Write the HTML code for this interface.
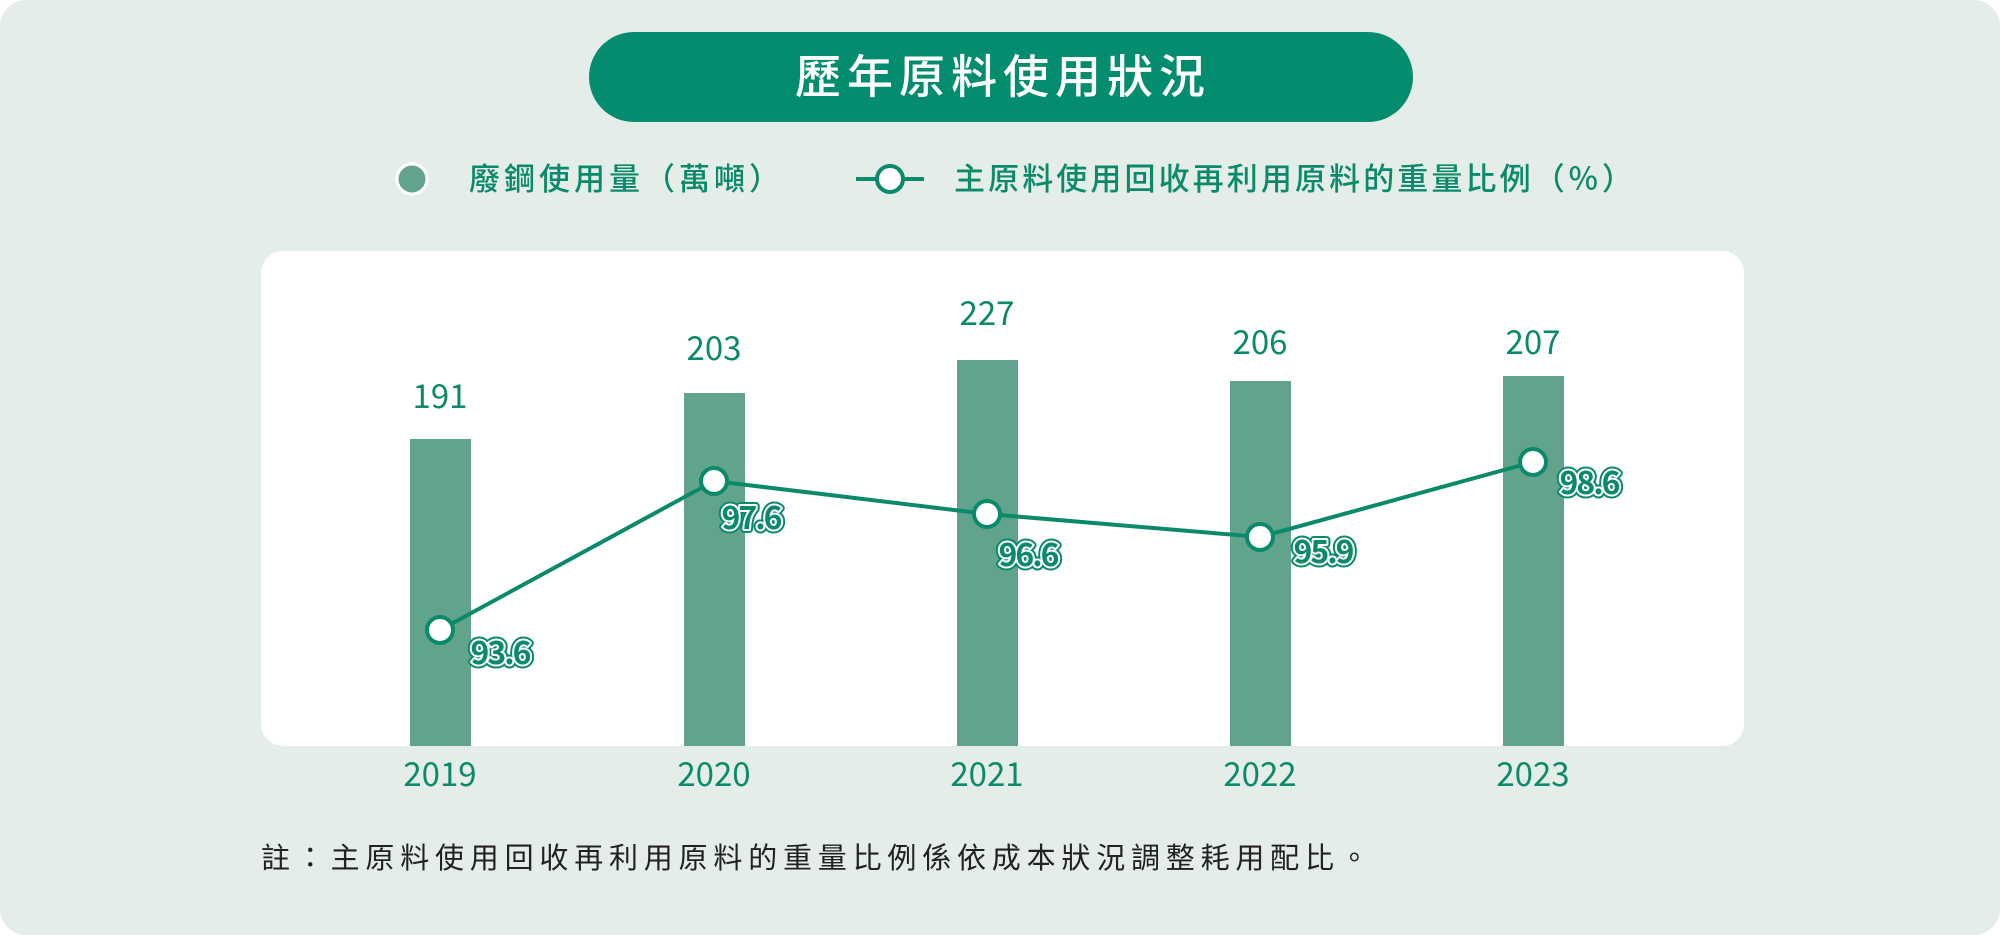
<!DOCTYPE html>
<html><head><meta charset="utf-8"><style>
html,body{margin:0;padding:0;background:#fff;}
body{width:2000px;height:935px;position:relative;overflow:hidden;font-family:"Liberation Sans","Noto Sans CJK TC",sans-serif;}
</style></head><body>
<svg width="2000" height="935" viewBox="0 0 2000 935" xmlns="http://www.w3.org/2000/svg" style="position:absolute;left:0;top:0">
<rect x="0" y="0" width="2000" height="935" rx="26" fill="#e5ede8"/>
<rect x="589" y="32" width="824" height="90" rx="45" fill="#038c6d"/>
<text x="1003" y="93" font-size="46" fill="#fff" text-anchor="middle" font-family="Noto Sans CJK TC, sans-serif" font-weight="500" letter-spacing="6">歷年原料使用狀況</text>
<circle cx="412" cy="179" r="15" fill="#62a48b" stroke="#fff" stroke-width="3"/>
<text x="469" y="190" font-size="31" fill="#0a8a6a" font-family="Noto Sans CJK TC, sans-serif" font-weight="500" letter-spacing="4">廢鋼使用量（萬噸）</text>
<line x1="856" y1="179" x2="924" y2="179" stroke="#0a8a6a" stroke-width="4"/>
<circle cx="890" cy="179" r="13" fill="#fff" stroke="#0a8a6a" stroke-width="4"/>
<text x="954" y="190" font-size="31" fill="#0a8a6a" font-family="Noto Sans CJK TC, sans-serif" font-weight="500" letter-spacing="3.1">主原料使用回收再利用原料的重量比例（％）</text>
<rect x="261" y="251" width="1483" height="495" rx="22" fill="#fff"/>
<g fill="#62a48b">
<rect x="410" y="439" width="61" height="307"/>
<rect x="684" y="393" width="61" height="353"/>
<rect x="957" y="360" width="61" height="386"/>
<rect x="1230" y="381" width="61" height="365"/>
<rect x="1503" y="376" width="61" height="370"/>
</g>
<g font-size="33" fill="#0a8a6a" text-anchor="middle" font-family="Noto Sans CJK TC, sans-serif">
<text x="440" y="408">191</text>
<text x="714" y="360">203</text>
<text x="987" y="325">227</text>
<text x="1260" y="354">206</text>
<text x="1533" y="354">207</text>
<text x="440" y="786">2019</text>
<text x="714" y="786">2020</text>
<text x="987" y="786">2021</text>
<text x="1260" y="786">2022</text>
<text x="1533" y="786">2023</text>
</g>
<polyline points="440,630 714,481 987,514 1260,537 1533,462" fill="none" stroke="#0a8a6a" stroke-width="4"/>
<g fill="#fff" stroke="#0a8a6a" stroke-width="4">
<circle cx="440" cy="630" r="13"/>
<circle cx="714" cy="481" r="13"/>
<circle cx="987" cy="514" r="13"/>
<circle cx="1260" cy="537" r="13"/>
<circle cx="1533" cy="462" r="13"/>
</g>
<g font-size="32" font-weight="bold" fill="#0a8a6a" stroke="#0a8a6a" stroke-width="8" paint-order="stroke" stroke-linejoin="round" text-anchor="middle" letter-spacing="-2" font-family="Noto Sans CJK TC, sans-serif">
<text x="500" y="664">93.6</text>
<text x="751" y="529">97.6</text>
<text x="1028" y="566">96.6</text>
<text x="1323" y="563">95.9</text>
<text x="1589" y="494">98.6</text>
</g>
<g font-size="32" font-weight="bold" fill="#0a8a6a" stroke="#fff" stroke-width="4" paint-order="stroke" stroke-linejoin="round" text-anchor="middle" letter-spacing="-2" font-family="Noto Sans CJK TC, sans-serif">
<text x="500" y="664">93.6</text>
<text x="751" y="529">97.6</text>
<text x="1028" y="566">96.6</text>
<text x="1323" y="563">95.9</text>
<text x="1589" y="494">98.6</text>
</g>
<text x="261" y="868" font-size="29" fill="#222" font-family="Noto Sans CJK TC, sans-serif" letter-spacing="5.8">註：主原料使用回收再利用原料的重量比例係依成本狀況調整耗用配比。</text>
</svg>
</body></html>
